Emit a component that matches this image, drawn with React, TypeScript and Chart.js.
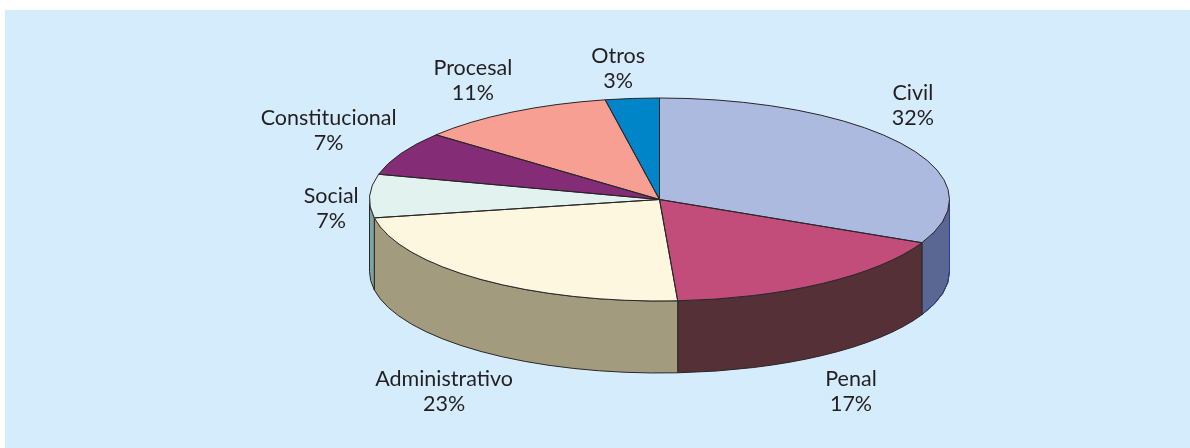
import React, { useEffect, useRef } from "react";
import { Chart, registerables } from "chart.js";

Chart.register(...registerables);

const categories = ["Civil", "Penal", "Administrativo", "Social", "Constitucional", "Procesal", "Otros"];
const shares = [32, 17, 23.1, 6.9, 7, 11, 3];
const topColors = ["#abbade", "#c24d7b", "#fdf7df", "#e2f2ef", "#842c75", "#f79f93", "#0085c8"];
const wallColors = ["#5a6793", "#553137", "#a39b7d", "#7ea3a3", "#421639", "#7c504a", "#004364"];
const labelShifts = [[8.5, -40], [28.5, 108], [-37, 112], [-38.5, 12], [-72.5, -23], [-39, -32.5], [-14, -30]];

const CX = 659.5, CY = 199.5, RX = 290, RY = 101.5, DEPTH = 72;
const INK = "#2a2628";

const pie3d = {
  id: "pie3d",
  beforeDraw(chart: any) {
    const { ctx } = chart;
    ctx.save();
    ctx.fillStyle = "#d4ecfb";
    ctx.fillRect(5, 10, chart.width - 5, chart.height - 10);
    ctx.restore();
  },
  beforeDatasetsDraw(chart: any) {
    const { ctx } = chart;
    const arcs = chart.getDatasetMeta(0).data;
    ctx.save();
    ctx.lineWidth = 1;
    arcs.forEach((arc: any, i: number) => {
      const a0 = Math.max(arc.startAngle, 0);
      const a1 = Math.min(arc.endAngle, Math.PI);
      if (a1 <= a0) return;
      ctx.beginPath();
      ctx.ellipse(CX, CY, RX, RY, 0, a0, a1);
      ctx.ellipse(CX, CY + DEPTH, RX, RY, 0, a1, a0, true);
      ctx.closePath();
      ctx.fillStyle = wallColors[i];
      ctx.fill();
      ctx.strokeStyle = INK;
      ctx.stroke();
      if (i === 0) {
        // the first slice's wall has a blue outer edge in the reference
        ctx.beginPath();
        ctx.moveTo(CX + RX, CY);
        ctx.ellipse(CX, CY + DEPTH, RX, RY, 0, a0, a1 - 0.01);
        ctx.strokeStyle = "#2c3c9c";
        ctx.stroke();
      }
    });
    ctx.restore();
    const first = arcs[0];
    ctx.save();
    ctx.translate(CX, CY);
    ctx.scale(RX / first.outerRadius, RY / first.outerRadius);
    ctx.translate(-first.x, -first.y);
  },
  afterDatasetsDraw(chart: any) {
    const { ctx } = chart;
    ctx.restore();
    const arcs = chart.getDatasetMeta(0).data;
    ctx.save();
    ctx.strokeStyle = INK;
    ctx.lineWidth = 1;
    arcs.forEach((arc: any) => {
      ctx.beginPath();
      ctx.moveTo(CX, CY);
      ctx.ellipse(CX, CY, RX, RY, 0, arc.startAngle, arc.endAngle);
      ctx.closePath();
      ctx.stroke();
    });
    ctx.fillStyle = "#231f20";
    ctx.font = "400 21.5px Lato";
    ctx.textAlign = "center";
    ctx.textBaseline = "middle";
    arcs.forEach((arc: any, i: number) => {
      const mid = (arc.startAngle + arc.endAngle) / 2;
      const x = CX + RX * Math.cos(mid) + labelShifts[i][0];
      const y = CY + RY * Math.sin(mid) + labelShifts[i][1];
      ctx.fillText(categories[i], x, y - 12);
      ctx.fillText(Math.round(shares[i]) + "%", x, y + 13);
    });
    ctx.restore();
  },
};

export default function App() {
  const ref = useRef<HTMLCanvasElement>(null);
  useEffect(() => {
    document.body.style.margin = "0";
    const chart = new Chart(ref.current!, {
      type: "pie",
      data: {
        labels: categories,
        datasets: [{ data: shares, backgroundColor: topColors, borderWidth: 0 }],
      },
      options: {
        animation: false,
        responsive: false,
        maintainAspectRatio: false,
        plugins: { legend: { display: false }, tooltip: { enabled: false } },
      },
      plugins: [pie3d],
    });
    return () => chart.destroy();
  }, []);
  return <canvas ref={ref} width={1190} height={448} style={{ display: "block" }} />;
}
